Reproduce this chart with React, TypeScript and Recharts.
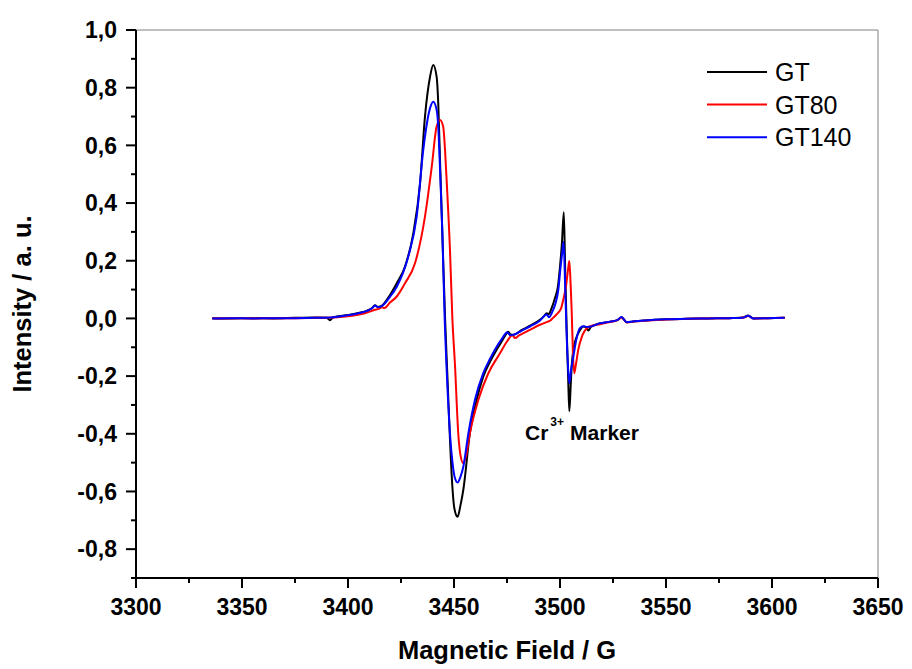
import React from 'react';
import { LineChart, Line, XAxis, YAxis, ReferenceLine, ReferenceDot, Legend } from 'recharts';

const FONT = '"Liberation Sans", Arial, Helvetica, sans-serif';

// ---- data ----
const fieldGT = [3336, 3345, 3355, 3365, 3375, 3385, 3390, 3391.5, 3393, 3400, 3405, 3409, 3411.5, 3412.7, 3414, 3415.5, 3419.8, 3423, 3426.9, 3430.8, 3434, 3436.3, 3438.7, 3440.2, 3441.8, 3442.6, 3443.4, 3444.6, 3445.8, 3447, 3448.1, 3449.2, 3450.2, 3451.7, 3453, 3454.4, 3457.5, 3460.7, 3463.8, 3467, 3470.1, 3472.5, 3474.9, 3475.6, 3476.5, 3478, 3482, 3485.8, 3490.5, 3492.5, 3493.7, 3494.6, 3496, 3497.6, 3499, 3500, 3500.9, 3501.8, 3502.5, 3503.2, 3503.9, 3504.4, 3505, 3505.5, 3506.5, 3507.9, 3509.5, 3511, 3512.2, 3513.4, 3514.5, 3518.9, 3523, 3527, 3529.1, 3530.2, 3531.5, 3535, 3540, 3550, 3560, 3570, 3580, 3586, 3588.8, 3591.2, 3598, 3606];
const intensityGT = [0.001, 0.0, 0.001, 0.0, 0.002, 0.003, 0.002, -0.006, 0.004, 0.012, 0.019, 0.027, 0.037, 0.046, 0.04, 0.042, 0.081, 0.122, 0.18, 0.295, 0.469, 0.699, 0.838, 0.879, 0.838, 0.74, 0.55, 0.27, 0.0, -0.22, -0.42, -0.58, -0.66, -0.688, -0.65, -0.594, -0.398, -0.282, -0.202, -0.15, -0.109, -0.08, -0.051, -0.046, -0.055, -0.057, -0.04, -0.025, -0.005, 0.008, 0.018, 0.015, 0.035, 0.07, 0.11, 0.18, 0.26, 0.368, 0.15, -0.05, -0.22, -0.322, -0.24, -0.167, -0.1, -0.063, -0.04, -0.028, -0.03, -0.042, -0.03, -0.017, -0.012, -0.006, 0.004, -0.004, -0.013, -0.01, -0.007, -0.003, -0.001, 0.0, 0.001, 0.003, 0.01, 0.0, 0.001, 0.002];

const fieldGT80 = [3336, 3345, 3355, 3365, 3375, 3385, 3395, 3402, 3408, 3412.7, 3414.5, 3415.9, 3417.2, 3419.8, 3423, 3426.9, 3431.6, 3436.3, 3439.5, 3441.8, 3443.4, 3444.9, 3445.8, 3446.6, 3448.1, 3449.2, 3450.5, 3452, 3453.2, 3454.4, 3455.6, 3457.5, 3461.5, 3466.2, 3471.7, 3475, 3477.5, 3478.8, 3480.5, 3485.8, 3490.5, 3494, 3495.3, 3496.6, 3498.5, 3500.5, 3501.5, 3502.8, 3503.8, 3504.4, 3505, 3505.5, 3506.1, 3506.7, 3507.5, 3508.6, 3510.5, 3512.6, 3515, 3518.9, 3523, 3527, 3529.1, 3530.2, 3531.5, 3535, 3540, 3550, 3560, 3570, 3580, 3586, 3588.8, 3591.2, 3598, 3606];
const intensityGT80 = [0.0, 0.001, 0.0, 0.001, 0.001, 0.002, 0.004, 0.009, 0.018, 0.03, 0.033, 0.039, 0.036, 0.055, 0.076, 0.122, 0.191, 0.353, 0.526, 0.665, 0.688, 0.665, 0.58, 0.469, 0.237, 0.006, -0.167, -0.398, -0.48, -0.502, -0.48, -0.398, -0.282, -0.19, -0.121, -0.08, -0.058, -0.068, -0.06, -0.04, -0.022, -0.012, -0.008, 0.001, 0.015, 0.035, 0.064, 0.11, 0.17, 0.199, 0.12, 0.029, -0.12, -0.19, -0.16, -0.109, -0.06, -0.034, -0.025, -0.02, -0.013, -0.007, 0.003, -0.005, -0.014, -0.011, -0.008, -0.004, -0.001, 0.0, 0.001, 0.002, 0.008, 0.0, 0.001, 0.002];

const fieldGT140 = [3336, 3345, 3355, 3365, 3375, 3385, 3393, 3400, 3405, 3409, 3411.5, 3412.7, 3414, 3415.5, 3419.8, 3423, 3428.4, 3432.4, 3435.5, 3438.7, 3440.2, 3441.8, 3442.6, 3443.4, 3444.5, 3445.6, 3446.8, 3448.1, 3449.3, 3450.3, 3451.7, 3453, 3454.4, 3456.8, 3459.9, 3463.8, 3467, 3470.1, 3472.5, 3475.1, 3476.5, 3478, 3482, 3485.8, 3490.5, 3493.7, 3494.8, 3496.5, 3498, 3499.2, 3500.3, 3501.1, 3501.7, 3502.4, 3503.1, 3503.8, 3504.4, 3505.2, 3506.3, 3507.8, 3509.4, 3511, 3513, 3518.9, 3523, 3527, 3529.1, 3530.2, 3531.5, 3535, 3540, 3550, 3560, 3570, 3580, 3586, 3588.8, 3591.2, 3598, 3606];
const intensityGT140 = [0.0, 0.001, 0.0, 0.001, 0.001, 0.002, 0.004, 0.011, 0.018, 0.026, 0.036, 0.045, 0.039, 0.041, 0.075, 0.11, 0.214, 0.353, 0.584, 0.729, 0.751, 0.723, 0.66, 0.52, 0.3, 0.0, -0.22, -0.4, -0.5, -0.55, -0.569, -0.55, -0.514, -0.398, -0.282, -0.19, -0.14, -0.098, -0.072, -0.048, -0.058, -0.057, -0.042, -0.028, -0.008, 0.014, 0.004, 0.025, 0.055, 0.099, 0.18, 0.23, 0.266, 0.12, -0.05, -0.17, -0.225, -0.18, -0.132, -0.07, -0.034, -0.027, -0.03, -0.017, -0.012, -0.006, 0.005, -0.004, -0.013, -0.01, -0.007, -0.003, -0.001, 0.0, 0.001, 0.002, 0.009, 0.0, 0.001, 0.002];

const seriesNames = ['GT', 'GT80', 'GT140'];
const seriesColors = ['#000000', '#ff0000', '#0000ff'];

const xTicks = [3300, 3325, 3350, 3375, 3400, 3425, 3450, 3475, 3500, 3525, 3550, 3575, 3600, 3625, 3650];
const xMajorTicks = [3300, 3350, 3400, 3450, 3500, 3550, 3600, 3650];
const yTicks = [-0.9, -0.8, -0.7, -0.6, -0.5, -0.4, -0.3, -0.2, -0.1, 0, 0.1, 0.2, 0.3, 0.4, 0.5, 0.6, 0.7, 0.8, 0.9, 1.0];
const yMajorTicks = [-0.8, -0.6, -0.4, -0.2, 0, 0.2, 0.4, 0.6, 0.8, 1.0];

const markerField = 3483.5;
const markerIntensity = -0.421;

const zip = (f: number[], v: number[]) => f.map((g, i) => ({ field: g, intensity: v[i] }));
const dataGT = zip(fieldGT, intensityGT);
const dataGT80 = zip(fieldGT80, intensityGT80);
const dataGT140 = zip(fieldGT140, intensityGT140);
const seriesData = [dataGT, dataGT80, dataGT140];

const YTick = (props: any) => {
  const { x, y, payload } = props;
  const v = payload.value;
  const major = yMajorTicks.some((t) => Math.abs(t - v) < 1e-6);
  return (
    <g>
      <line x1={x} x2={x - (major ? 10 : 5)} y1={y} y2={y} stroke="#000" strokeWidth={2} />
      {major && (
        <text x={x - 19} y={y} dy="0.36em" textAnchor="end" fontFamily={FONT} fontWeight="bold" fontSize={23} fill="#000">
          {v.toFixed(1).replace('.', ',')}
        </text>
      )}
    </g>
  );
};

const XTick = (props: any) => {
  const { x, y, payload } = props;
  const v = payload.value;
  const major = xMajorTicks.includes(v);
  return (
    <g>
      <line x1={x} x2={x} y1={y} y2={y + (major ? 10 : 5)} stroke="#000" strokeWidth={2} />
      {major && (
        <text x={x} y={y + 37} textAnchor="middle" fontFamily={FONT} fontWeight="bold" fontSize={23} fill="#000">
          {v}
        </text>
      )}
    </g>
  );
};

const YTitle = (props: any) => {
  const vb = props.viewBox || {};
  const tx = vb.x + vb.width - 105;
  const ty = vb.y + vb.height / 2;
  return (
    <text x={tx} y={ty} transform={`rotate(-90 ${tx} ${ty})`} textAnchor="middle" fontFamily={FONT} fontWeight="bold" fontSize={25.5} fill="#000">
      Intensity / a. u.
    </text>
  );
};

const XTitle = (props: any) => {
  const vb = props.viewBox || {};
  const tx = vb.x + vb.width / 2;
  const ty = vb.y + 81;
  return (
    <text x={tx} y={ty} textAnchor="middle" fontFamily={FONT} fontWeight="bold" fontSize={25.5} fill="#000">
      Magnetic Field / G
    </text>
  );
};

const MarkerLabel = (props: any) => {
  const { cx, cy } = props;
  return (
    <text x={cx} y={cy} fontFamily={FONT} fontWeight="bold" fontSize={21} fill="#000">
      <tspan>Cr</tspan>
      <tspan dx={2} dy={-14} fontSize={12}>3+</tspan>
      <tspan dx={6} dy={14}>Marker</tspan>
    </text>
  );
};

const renderLegend = (props: any) => {
  const payload = props.payload || [];
  const items = seriesNames
    .map((n) => payload.find((e: any) => e.value === n))
    .filter(Boolean);
  return (
    <svg width={200} height={110} style={{ display: 'block' }}>
      {items.map((e: any, i: number) => {
        const ly = 14 + i * 32.6;
        return (
          <g key={i}>
            <line x1={0} x2={60} y1={ly} y2={ly} stroke={e.color} strokeWidth={2} />
            <text x={68} y={ly + 9} fontFamily={FONT} fontSize={25} fill="#000">
              {e.value}
            </text>
          </g>
        );
      })}
    </svg>
  );
};

export default function App() {
  return (
    <div style={{ position: 'absolute', left: 8, top: 8, width: 896, height: 661, overflow: 'hidden' }}>
      <LineChart width={896} height={661} margin={{ top: 22, right: 26, bottom: 31, left: 28 }}>
        <XAxis
          type="number"
          dataKey="field"
          domain={[3300, 3650]}
          ticks={xTicks}
          interval={0}
          allowDataOverflow
          height={60}
          tickSize={0}
          tickMargin={0}
          tickLine={false}
          tick={<XTick />}
          axisLine={{ stroke: '#000', strokeWidth: 2 }}
          label={XTitle}
        />
        <YAxis
          type="number"
          dataKey="intensity"
          domain={[-0.9, 1.0]}
          ticks={yTicks}
          interval={0}
          allowDataOverflow
          width={100}
          tickSize={0}
          tickMargin={0}
          tickLine={false}
          tick={<YTick />}
          axisLine={{ stroke: '#000', strokeWidth: 2 }}
          label={YTitle}
        />
        <ReferenceLine y={1.0} stroke="#808080" strokeWidth={1} />
        <ReferenceLine x={3650} stroke="#808080" strokeWidth={1} />
        {seriesData.map((d, i) => (
          <Line
            key={seriesNames[i]}
            data={d}
            dataKey="intensity"
            name={seriesNames[i]}
            stroke={seriesColors[i]}
            strokeWidth={2}
            dot={false}
            activeDot={false}
            type="monotone"
            isAnimationActive={false}
          />
        ))}
        <ReferenceDot x={markerField} y={markerIntensity} r={0} shape={MarkerLabel} />
        <Legend
          layout="horizontal"
          verticalAlign="middle"
          align="center"
          content={renderLegend}
          wrapperStyle={{ left: 699, top: 50, width: 200 }}
        />
      </LineChart>
    </div>
  );
}
